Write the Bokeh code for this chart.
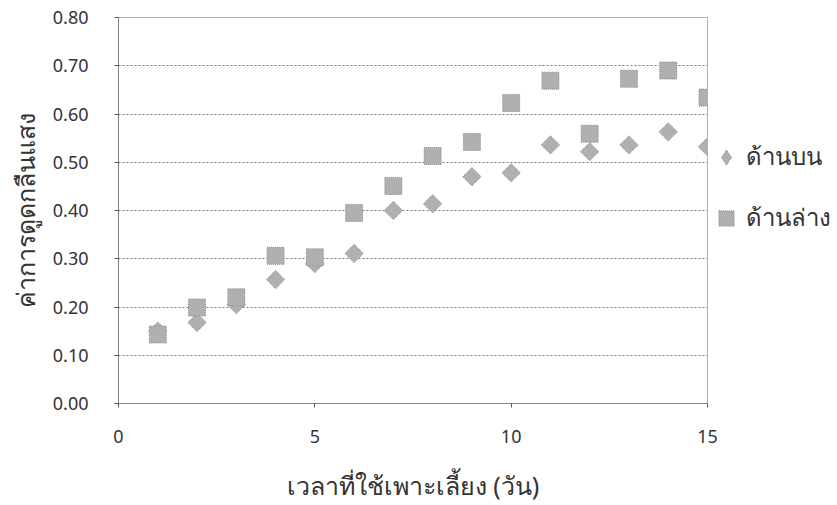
import numpy as np
from bokeh.plotting import figure
from bokeh.models import Range1d, FixedTicker, Legend, LegendItem, CustomJSTickFormatter, ColumnDataSource
from bokeh.embed import file_html
from bokeh.resources import INLINE

days = [1, 2, 3, 4, 5, 6, 7, 8, 9, 10, 11, 12, 13, 14, 15]
top_vals = [0.15, 0.168, 0.205, 0.257, 0.29, 0.311, 0.40, 0.414, 0.47, 0.478, 0.536, 0.522, 0.536, 0.563, 0.532]
bottom_vals = [0.143, 0.199, 0.22, 0.306, 0.303, 0.395, 0.451, 0.513, 0.542, 0.623, 0.669, 0.559, 0.673, 0.69, 0.634]
series_names = ["ด้านบน", "ด้านล่าง"]
x_ticks = [0, 5, 10, 15]
y_ticks = [0.0, 0.1, 0.2, 0.3, 0.4, 0.5, 0.6, 0.7, 0.8]
x_title = "เวลาที่ใช้เพาะเลี้ยง (วัน)"
y_title = "ค่าการดูดกลืนแสง"

p = figure(frame_width=589, frame_height=386, output_backend="svg", toolbar_location=None,
           x_range=Range1d(0, 15), y_range=Range1d(0, 0.8))
p.min_border_left = 118
p.min_border_right = 0
p.min_border_top = 17
p.min_border_bottom = 98
p.background_fill_color = "white"
p.border_fill_color = "white"
p.outline_line_color = "#666666"
p.outline_line_dash = "1 1"
p.outline_line_width = 1

p.xgrid.grid_line_color = None
p.ygrid.grid_line_color = "#777777"
p.ygrid.grid_line_dash = "2 2"
p.ygrid.grid_line_width = 1
p.ygrid.ticker = FixedTicker(ticks=y_ticks)

font = "Noto Sans"
p.xaxis.ticker = FixedTicker(ticks=x_ticks)
p.yaxis.ticker = FixedTicker(ticks=y_ticks)
p.yaxis.formatter = CustomJSTickFormatter(code="return tick.toFixed(2);")
for ax in (p.xaxis, p.yaxis):
    ax.axis_line_color = "#555555"
    ax.axis_line_dash = "1 1"
    ax.major_tick_line_color = "#555555"
    ax.minor_tick_line_color = None
    ax.major_tick_in = 0
    ax.major_tick_out = 4
    ax.major_label_text_font = font
    ax.major_label_text_font_size = "18px"
    ax.major_label_text_color = "#333333"
    ax.axis_label_text_font = font
    ax.axis_label_text_font_size = "25px"
    ax.axis_label_text_font_style = "normal"
    ax.axis_label_text_color = "#333333"
p.xaxis.major_label_standoff = 22
p.yaxis.major_label_standoff = 26
p.xaxis.axis_label = x_title
p.yaxis.axis_label = y_title
p.xaxis.axis_label_standoff = 22
p.yaxis.axis_label_standoff = 8

fill = "#b0b0b0"
edge = "#8a8a8a"
r_top = p.scatter(days, top_vals, marker="square", angle=np.pi / 4, size=13,
                  fill_color=fill, line_color=edge, line_width=1, line_dash="1 1")
r_bot = p.scatter(days, bottom_vals, marker="square", size=17,
                  fill_color=fill, line_color=edge, line_width=1, line_dash="1 1")

# legend proxy for the diamond series (legend glyphs are drawn unrotated)
proxy_src = ColumnDataSource(data=dict(x=[np.nan], y=[np.nan]))
r_top_proxy = p.scatter("x", "y", source=proxy_src, marker="diamond",
                        fill_color=fill, line_color=edge, line_width=1, line_dash="1 1")

legend = Legend(items=[LegendItem(label=series_names[0], renderers=[r_top_proxy]),
                       LegendItem(label=series_names[1], renderers=[r_bot])],
                location=(0, 166))
legend.border_line_color = None
legend.background_fill_alpha = 0
legend.label_text_font = font
legend.label_text_font_size = "24px"
legend.label_text_color = "#333333"
legend.glyph_width = 38
legend.glyph_height = 38
legend.label_standoff = 1
legend.spacing = 22
legend.padding = 0
legend.margin = 0
p.add_layout(legend, "right")

open("out.html", "w").write(file_html(p, INLINE))
